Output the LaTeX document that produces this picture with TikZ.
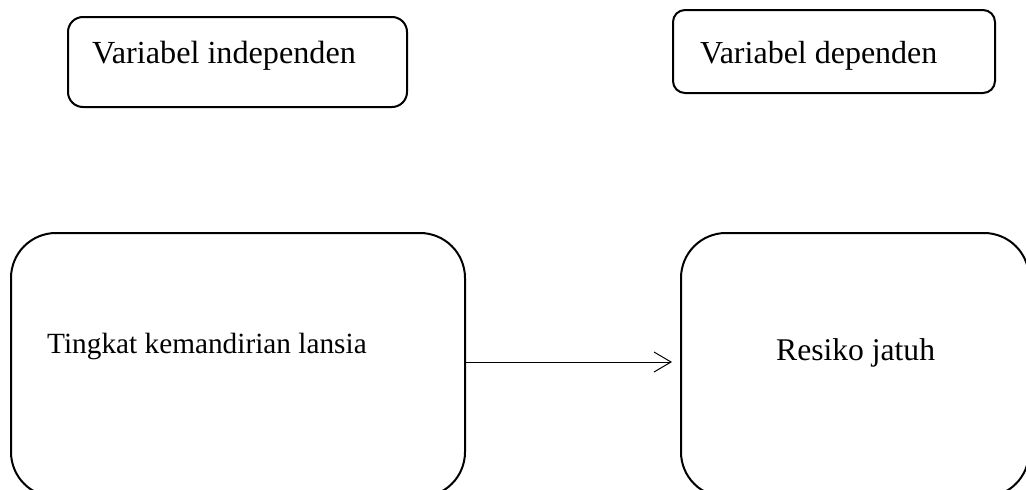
\documentclass[tikz,border=0pt]{standalone}
\usepackage{fontspec}
\setmainfont{Liberation Serif}
\usetikzlibrary{arrows.meta}
\tikzset{
  box/.style={draw=black, line width=2pt, inner sep=0pt},
  lbl/.style={inner sep=0pt, anchor=base west},
  link/.style={line width=1pt, -{Straight Barb[length=17pt, width=20pt, line width=1pt]}}
}
\begin{document}
\begin{tikzpicture}[x=1pt, y=-1pt]
\useasboundingbox (0,0) rectangle (1026,490);
\clip (0,0) rectangle (1026,490);
% top boxes
\node[box, rounded corners=15pt, minimum width=339pt, minimum height=90pt] (vi) at (237.5,62) {};
\node[box, rounded corners=12pt, minimum width=322pt, minimum height=83pt] (vd) at (834,51.5) {};
\node[lbl, font=\fontsize{32.2}{36}\selectfont] (tvi) at (92,63) {Variabel independen};
\node[lbl, font=\fontsize{32}{36}\selectfont] (tvd) at (700,63) {Variabel dependen};
% big boxes
\node[box, rounded corners=45pt, minimum width=454pt, minimum height=264pt] (b1) at (238,365) {};
\node[box, rounded corners=45pt, minimum width=348pt, minimum height=264pt] (b2) at (855,365) {};
\node[lbl, font=\fontsize{29.3}{34}\selectfont] (t1) at (47,353) {Tingkat kemandirian lansia};
\node[lbl, font=\fontsize{31.6}{36}\selectfont] (t2) at (776,360) {Resiko jatuh};
% connector
\draw[link, shorten >=8pt] (b1.east |- 0,362) -- (b2.west |- 0,362);
\end{tikzpicture}
\end{document}
